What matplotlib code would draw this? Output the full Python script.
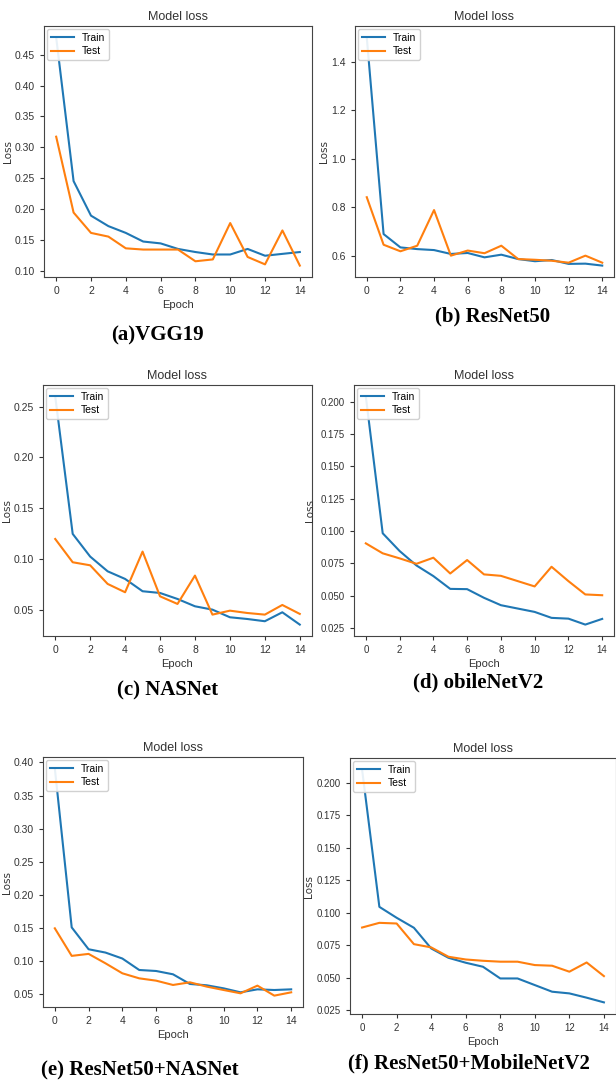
import matplotlib.pyplot as plt
import numpy as np

plt.rcParams['font.family'] = ['Liberation Sans', 'DejaVu Sans']

epochs = np.arange(15)

vgg_train = [0.478, 0.245, 0.189, 0.172, 0.161, 0.147, 0.144, 0.135, 0.130, 0.126, 0.126, 0.135, 0.124, 0.127, 0.130]
vgg_test = [0.317, 0.194, 0.161, 0.155, 0.136, 0.134, 0.134, 0.134, 0.115, 0.118, 0.177, 0.122, 0.110, 0.165, 0.108]

res_train = [1.50, 0.689, 0.634, 0.627, 0.623, 0.607, 0.611, 0.593, 0.604, 0.586, 0.577, 0.582, 0.566, 0.567, 0.559]
res_test = [0.841, 0.645, 0.618, 0.641, 0.788, 0.600, 0.621, 0.610, 0.641, 0.586, 0.583, 0.579, 0.571, 0.600, 0.571]

nas_train = [0.260, 0.1248, 0.1025, 0.088, 0.0805, 0.0684, 0.0667, 0.0608, 0.0536, 0.0503, 0.0428, 0.0411, 0.0389, 0.0477, 0.0356]
nas_test = [0.1198, 0.0969, 0.0939, 0.0756, 0.0674, 0.1074, 0.0634, 0.0559, 0.0838, 0.0454, 0.0493, 0.047, 0.0454, 0.0549, 0.0461]

mob_train = [0.204, 0.0982, 0.0845, 0.0733, 0.0651, 0.0552, 0.055, 0.0483, 0.0426, 0.040, 0.0374, 0.0328, 0.0322, 0.0276, 0.032]
mob_test = [0.0904, 0.0827, 0.0788, 0.0746, 0.0793, 0.0671, 0.0775, 0.0664, 0.0653, 0.0612, 0.0571, 0.0723, 0.0612, 0.0509, 0.0503]

rn_train = [0.391, 0.151, 0.118, 0.113, 0.104, 0.0867, 0.0852, 0.0802, 0.0656, 0.0636, 0.059, 0.053, 0.0575, 0.0565, 0.0575]
rn_test = [0.1496, 0.108, 0.111, 0.0968, 0.0817, 0.0741, 0.0706, 0.0641, 0.0681, 0.0616, 0.0565, 0.0515, 0.0631, 0.048, 0.053]

rm_train = [0.210, 0.1044, 0.096, 0.0883, 0.0724, 0.0652, 0.0614, 0.0583, 0.0493, 0.0493, 0.0442, 0.0391, 0.0378, 0.0345, 0.0309]
rm_test = [0.0885, 0.0921, 0.0916, 0.0757, 0.0732, 0.066, 0.0639, 0.0629, 0.0622, 0.0622, 0.0596, 0.0591, 0.0545, 0.0616, 0.0511]

captions = ['(a)VGG19', '(b) ResNet50', '(c) NASNet', '(d) obileNetV2',
            '(e) ResNet50+NASNet', '(f) ResNet50+MobileNetV2']

W, H = 616, 1083
fig = plt.figure(figsize=(W / 100, H / 100), dpi=100)


def px_axes(x0, y0, x1, y1):
    return fig.add_axes([x0 / W, 1 - y1 / H, (x1 - x0) / W, (y1 - y0) / H])


# box (px), train, test, show xlabel, caption centre (px), Loss label x (px), tick size
panels = [
    ((44, 26, 312, 277), vgg_train, vgg_test, True, (157, 335), 13, 7.5),
    ((355, 26, 614, 277), res_train, res_test, False, (493, 316), 329, 7.5),
    ((43, 385, 312, 636), nas_train, nas_test, True, (168, 690), 12, 7.5),
    ((354, 385, 614, 636), mob_train, mob_test, True, (478, 682), 315, 7),
    ((43, 757, 303, 1007), rn_train, rn_test, True, (140, 1070), 12, 7.5),
    ((350, 758, 616, 1014), rm_train, rm_test, True, (469, 1063), 314, 7),
]

for i, (box, tr, te, xlab, cap, lx, ts) in enumerate(panels):
    ax = px_axes(*box)
    ax.plot(epochs, tr, color='#1f77b4', lw=1.5, label='Train')
    ax.plot(epochs, te, color='#ff7f0e', lw=1.5, label='Test')
    ax.set_xticks(range(0, 15, 2))
    ax.tick_params(labelsize=ts, length=3, color='#333333', labelcolor='#333333')
    ax.set_title('Model loss', fontsize=9, color='#333333', pad=4)
    ax.set_ylabel('Loss', fontsize=7.5, color='#333333', family='DejaVu Sans')
    ax.yaxis.set_label_coords((lx - box[0]) / (box[2] - box[0]), 0.5)
    if xlab:
        ax.set_xlabel('Epoch', fontsize=8, color='#333333', labelpad=3)
    for s in ax.spines.values():
        s.set_color('#444444')
    ax.legend(loc='upper left', fontsize=7.5, borderaxespad=0.3, handlelength=2.2,
              labelspacing=0.35, borderpad=0.35, framealpha=0.9)
    fig.text(cap[0] / W, 1 - cap[1] / H, captions[i], ha='center', va='center',
             fontsize=15, fontweight='bold', family='Liberation Serif')

fig.savefig('out.png', dpi=100)
